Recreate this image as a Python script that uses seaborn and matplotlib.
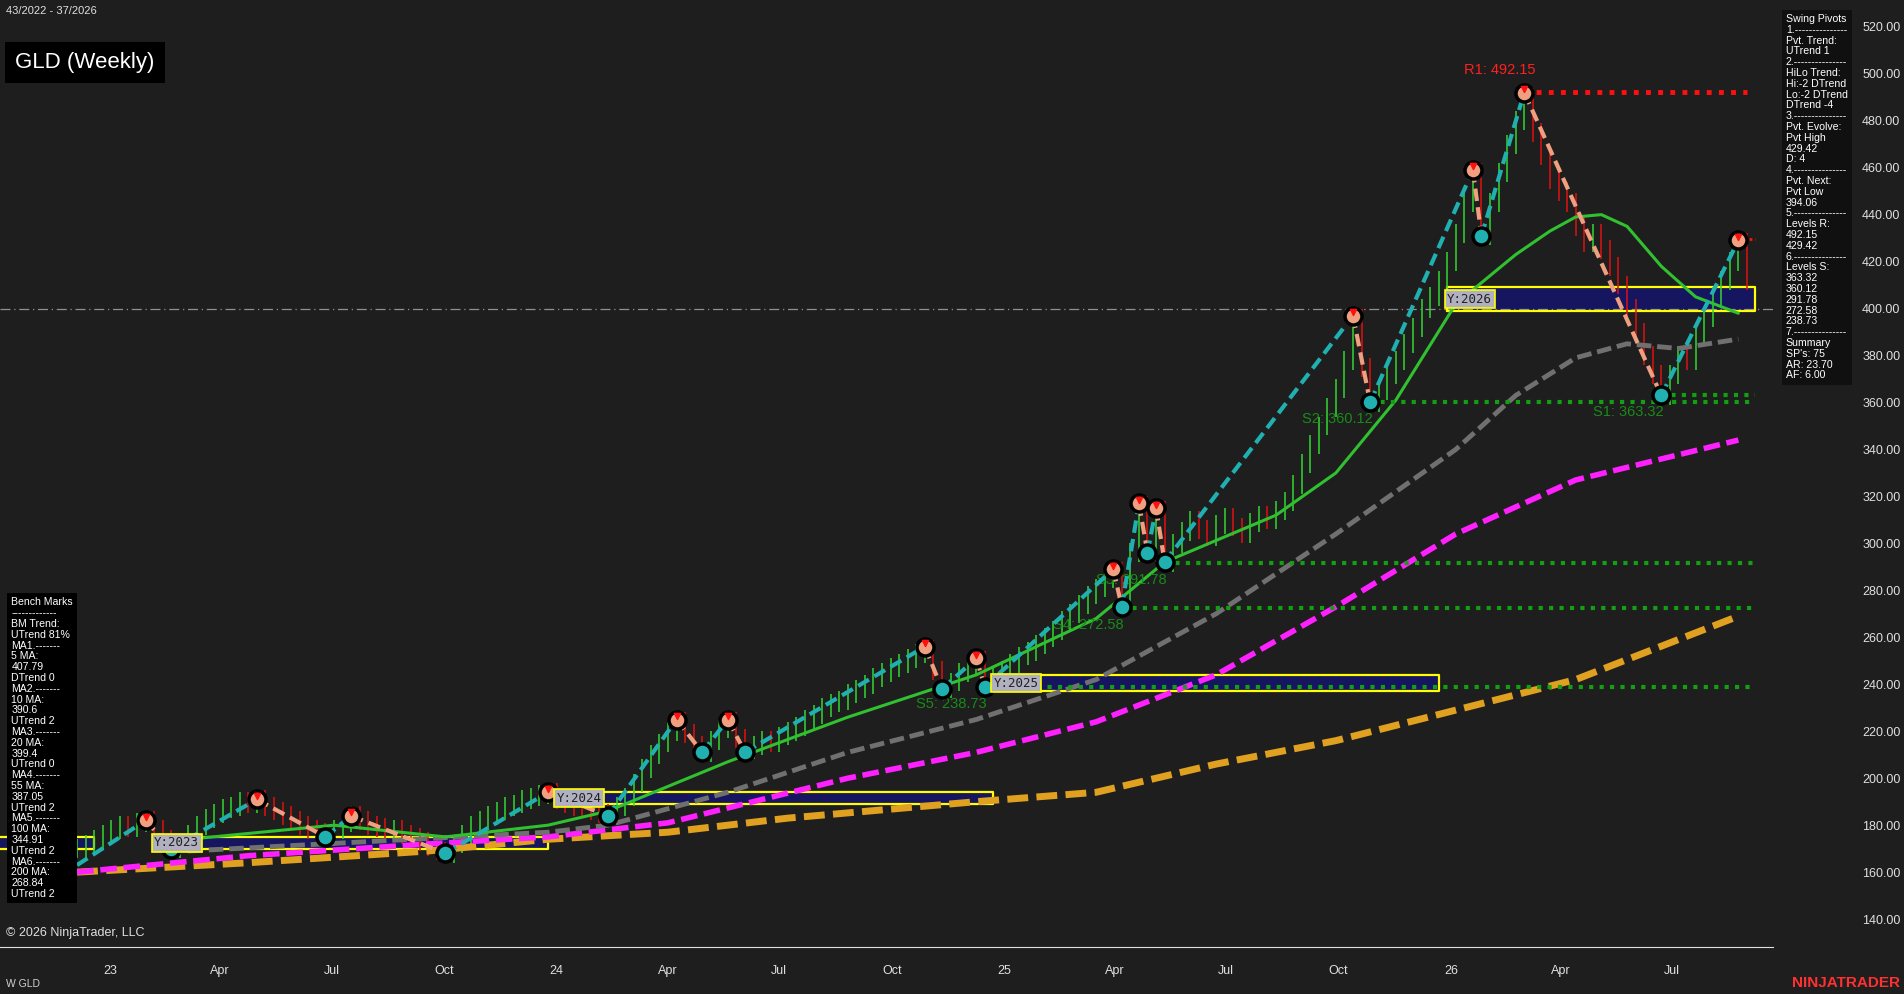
import matplotlib
matplotlib.use('Agg')
import matplotlib.pyplot as plt
import seaborn as sns
import numpy as np
import pandas as pd

# weekly closes, from week of 2022-12-05
closes = [170,172,174,176,178,180,179,181,182,
          178,174,170,
          172,176,180,183,185,187,188,190,189,191,
          188,186,184,182,180,178,177,175,
          178,181,184,
          182,180,179,177,178,176,175,173,171,169,168,
          172,176,180,182,184,186,188,189,191,192,193,194,
          191,189,188,187,186,185,184,
          188,192,198,204,210,215,220,224,
          219,214,211,
          216,221,224,
          217,212,
          214,216,215,218,220,222,225,227,230,232,233,236,238,240,243,245,247,249,251,253,255,
          246,238,
          241,245,248,250,
          240,
          243,246,249,252,254,257,260,263,267,270,274,278,281,285,288,
          274,
          296,316,
          296,
          314,
          292,
          300,305,310,306,303,308,311,307,304,309,312,310,314,
          318,325,334,342,350,358,366,378,396,
          375,360,
          365,372,378,385,392,400,405,412,420,432,445,458,
          431,
          445,458,470,480,490,
          475,465,455,450,445,435,428,432,425,418,410,400,390,380,372,363,
          372,380,378,388,396,405,412,420,428,
          412]

# swing pivots: week index, price
piv_idx = [0, 8, 11, 21, 29, 32, 43, 55, 62, 70, 73, 76, 78, 99, 101, 105, 106,
           121, 122, 124, 125, 126, 127, 149, 151, 163, 164, 169, 185, 194]
piv_px = [163, 182, 170, 191, 175, 184, 168, 194, 184, 225, 211, 225, 211, 256, 238,
          251, 239, 289, 273, 317, 296, 315, 292, 397, 360, 459, 431, 492, 363, 429]

# moving averages, read at week indices
ma20_idx = [13, 30, 43, 55, 62, 76, 90, 105, 119, 127, 140, 147, 154, 161, 165, 168, 172, 175, 178, 181, 185, 189, 194]
ma20_val = [174, 180, 175, 180, 186, 207, 226, 244, 268, 292, 312, 330, 361, 402, 414, 423, 433, 439, 440, 435, 418, 405, 398]
ma55_idx = [13, 34, 55, 62, 76, 90, 105, 119, 133, 147, 161, 168, 175, 181, 187, 194]
ma55_val = [169, 173, 177, 180, 194, 211, 225, 242, 270, 304, 340, 363, 379, 385, 383, 387]
ma100_idx = [0, 20, 41, 55, 69, 90, 105, 119, 133, 147, 161, 175, 194]
ma100_val = [160, 167, 172, 175, 181, 200, 211, 224, 244, 273, 304, 327, 344]
ma200_idx = [0, 20, 41, 55, 69, 83, 105, 119, 133, 147, 161, 175, 194]
ma200_val = [160, 164, 169, 174, 177, 183, 190, 194, 206, 216, 229, 242, 269]

# support / resistance levels (start week, price, label)
sup_start = [106, 122, 127, 151, 185]
sup_price = [238.73, 272.58, 291.78, 360.12, 363.32]
sup_label = ['S5: 238.73', 'S4: 272.58', 'S3: 291.78', 'S2: 360.12', 'S1: 363.32']

# yearly open boxes (start week, end week, low, high, label)
yr_start = [9, 56, 107, 160]
yr_end = [55, 107, 159, 196]
yr_low = [170, 189, 237, 399]
yr_high = [175, 194, 244, 409]
yr_label = ['Y:2023', 'Y:2024', 'Y:2025', 'Y:2026']

bench_text = ("Bench Marks\n-------------\nBM Trend:\nUTrend 81%\nMA1.-------\n5 MA:\n407.79\nDTrend 0\n"
              "MA2.-------\n10 MA:\n390.6\nUTrend 2\nMA3.-------\n20 MA:\n399.4\nUTrend 0\nMA4.-------\n"
              "55 MA:\n387.05\nUTrend 2\nMA5.-------\n100 MA:\n344.91\nUTrend 2\nMA6.-------\n200 MA:\n268.84\nUTrend 2")
swing_text = ("Swing Pivots\n1.---------------\nPvt. Trend:\nUTrend 1\n2.---------------\nHiLo Trend:\nHi:-2 DTrend\n"
              "Lo:-2 DTrend\nDTrend -4\n3.---------------\nPvt. Evolve:\nPvt High\n429.42\nD: 4\n4.---------------\n"
              "Pvt. Next:\nPvt Low\n394.06\n5.---------------\nLevels R:\n492.15\n429.42\n6.---------------\n"
              "Levels S:\n363.32\n360.12\n291.78\n272.58\n238.73\n7.---------------\nSummary\nSP's: 75\nAR: 23.70\nAF: 6.00")

BG = '#1e1e1e'
sns.set_style('dark', {'axes.facecolor': BG, 'figure.facecolor': BG})
plt.rcParams['font.family'] = ['Liberation Sans', 'DejaVu Sans']

dates = pd.date_range('2022-12-05', periods=len(closes), freq='W-MON')
week = pd.Timedelta(weeks=1)

fig = plt.figure(figsize=(19.04, 9.94), dpi=100)
ax = fig.add_axes([0, 0.047, 0.931, 0.953])
ax.set_facecolor(BG)

# yearly boxes
for s, e, lo, hi, lab in zip(yr_start, yr_end, yr_low, yr_high, yr_label):
    x0 = dates[0] + s * week
    x1 = dates[0] + e * week
    ax.fill_between([x0, x1], lo, hi, color='#151560', zorder=1)
    ax.plot([x0, x1, x1, x0, x0], [lo, lo, hi, hi, lo], color='#ffff00', lw=1.6, zorder=2)
    ax.text(x0, (lo + hi) / 2, lab, color='#202020', fontsize=9, family='DejaVu Sans Mono',
            va='center', ha='left', zorder=8,
            bbox=dict(boxstyle='square,pad=0.2', fc='#b0b0c0', ec='#ffff00', lw=1.2))
# left partial box of 2023
ax.fill_between([pd.Timestamp('2022-10-01'), dates[0] + 2 * week], 170, 175, color='#151560', zorder=1)
ax.plot([pd.Timestamp('2022-10-01'), dates[0] + 2 * week, dates[0] + 2 * week, pd.Timestamp('2022-10-01')],
        [170, 170, 175, 175], color='#ffff00', lw=1.6, zorder=2)

# current price reference line
ax.axhline(400, color='#909090', lw=0.9, ls=(0, (8, 3, 1, 3)), zorder=1)

# price bars
prev = [closes[0]] + closes[:-1]
cols = ['#32d732' if c >= p else '#e01010' for c, p in zip(closes, prev)]
lo = [min(c, p) - 4 for c, p in zip(closes, prev)]
hi = [max(c, p) + 4 for c, p in zip(closes, prev)]
ax.vlines(dates, lo, hi, colors=cols, lw=1.1, zorder=3)

# moving averages
def ma_frame(idx, val):
    return pd.DataFrame({'d': [dates[0] + i * week for i in idx], 'v': val})
sns.lineplot(data=ma_frame(ma200_idx, ma200_val), x='d', y='v', ax=ax, color='#e0a020', lw=5, ls=(0, (3, 1.2)), zorder=4)
sns.lineplot(data=ma_frame(ma100_idx, ma100_val), x='d', y='v', ax=ax, color='#ff20ff', lw=4, ls=(0, (3, 1.2)), zorder=4)
sns.lineplot(data=ma_frame(ma55_idx, ma55_val), x='d', y='v', ax=ax, color='#707070', lw=3.5, ls=(0, (3, 1.2)), zorder=4)
sns.lineplot(data=ma_frame(ma20_idx, ma20_val), x='d', y='v', ax=ax, color='#30c030', lw=2.2, zorder=4)

# support / resistance lines
end_date = dates[-1] + week
for s, p, lab in zip(sup_start, sup_price, sup_label):
    ax.plot([dates[s], end_date], [p, p], color='#12a012', lw=3, ls=(0, (1, 1.5)), zorder=5)
    ax.text(dates[s] - 8 * week, p - 9, lab, color='#1a8a1a', fontsize=10.5, zorder=6)
ax.plot([dates[169], dates[-1]], [492.15, 492.15], color='#ff1010', lw=3.5, ls=(0, (1, 1.5)), zorder=5)
ax.text(dates[169] - 7 * week, 500, 'R1: 492.15', color='#ff2020', fontsize=10.5, zorder=6)
ax.plot([dates[194], end_date], [429.42, 429.42], color='#ff1010', lw=2, ls=(0, (1, 1)), zorder=5)

# zigzag swing lines
pd_dates = [dates[i] for i in piv_idx]
for k in range(len(piv_idx) - 1):
    up = piv_px[k + 1] > piv_px[k]
    ax.plot(pd_dates[k:k + 2], piv_px[k:k + 2], color='#20b0b0' if up else '#f0a080',
            lw=3, ls=(0, (3, 1.5)), zorder=6)
for k in range(1, len(piv_idx)):
    is_high = piv_px[k] > piv_px[k - 1]
    ax.scatter(pd_dates[k], piv_px[k], s=150, color='#f0a080' if is_high else '#20b0b0',
               edgecolors='black', linewidths=2.5, zorder=7)
    if is_high:
        ax.scatter(pd_dates[k], piv_px[k] + 1.5, s=20, marker='v', color='#ff1010', zorder=8)

# axes
ax.set_xlim(pd.Timestamp('2022-10-03'), pd.Timestamp('2026-09-21'))
ax.set_ylim(128, 531.4)
ax.yaxis.tick_right()
ax.set_yticks(np.arange(140, 521, 20))
ax.set_yticklabels([f'{v:.2f}' for v in np.arange(140, 521, 20)], color='#e0e0e0', fontsize=9)
ax.tick_params(axis='y', pad=92, direction='out', length=0)
for t in ax.get_yticklabels():
    t.set_ha('right')
ticks = pd.date_range('2023-01-01', '2026-09-01', freq='QS')
ax.set_xticks(ticks)
ax.set_xticklabels([str(d.year)[2:] if d.month == 1 else d.strftime('%b') for d in ticks], color='#e0e0e0', fontsize=9)
ax.tick_params(axis='x', length=5, color='#e0e0e0', pad=8)
ax.set_xlabel('')
ax.set_ylabel('')
ax.grid(False)
for sp in ['top', 'left', 'right']:
    ax.spines[sp].set_visible(False)
ax.spines['bottom'].set_color('#e0e0e0')

# overlays
fig.text(0.003, 0.994, '43/2022 - 37/2026', color='#e0e0e0', fontsize=8, va='top')
fig.text(0.008, 0.937, 'GLD (Weekly)', color='white', fontsize=16, va='center',
         bbox=dict(boxstyle='square,pad=0.45', fc='black', ec='none'))
fig.text(0.006, 0.399, bench_text, color='white', fontsize=7.6, va='top', linespacing=1.1,
         bbox=dict(boxstyle='square,pad=0.4', fc='black', ec='none'), zorder=10)
fig.text(0.938, 0.986, swing_text, color='white', fontsize=7.6, va='top', linespacing=1.1,
         bbox=dict(boxstyle='square,pad=0.4', fc='#101010', ec='none'))
fig.text(0.003, 0.058, '© 2026 NinjaTrader, LLC', color='#e0e0e0', fontsize=9)
fig.text(0.003, 0.007, 'W GLD', color='#d0d0d0', fontsize=7.5)
fig.text(0.998, 0.007, 'NINJATRADER', color='#ff3030', fontsize=11, weight='bold', ha='right')

fig.savefig('out.png', dpi=100, facecolor=BG)
